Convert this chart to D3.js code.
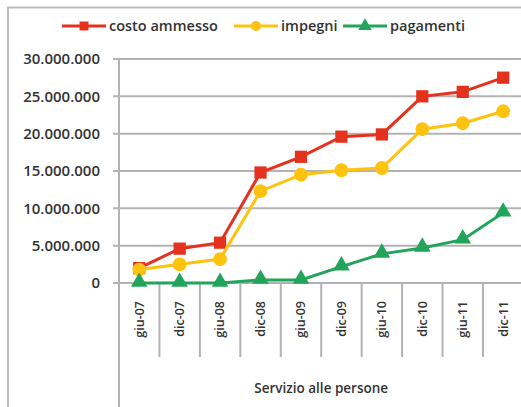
<!DOCTYPE html>
<html><head><meta charset="utf-8">
<script src="https://cdn.jsdelivr.net/npm/d3@7"></script>
<style>body{margin:0;background:#fff}svg{display:block}text{font-family:"Open Sans",sans-serif;fill:#333}</style>
</head><body><svg id="c" width="521" height="407"></svg>
<script>
const categories = ["giu-07","dic-07","giu-08","dic-08","giu-09","dic-09","giu-10","dic-10","giu-11","dic-11"];
const costoAmmesso = [2000000,4600000,5400000,14800000,16900000,19600000,19900000,25000000,25600000,27500000];
const impegni = [1800000,2500000,3200000,12300000,14500000,15100000,15400000,20600000,21400000,23000000];
const pagamenti = [0,0,0,400000,400000,2200000,3900000,4700000,5800000,9400000];
const yTicks = [0,5000000,10000000,15000000,20000000,25000000,30000000];
const seriesNames = ["costo ammesso","impegni","pagamenti"];
const axisTitle = "Servizio alle persone";

const colors = ["#e5321f","#ffc20e","#22a55b"];
const shapes = [d3.symbolSquare, d3.symbolCircle, d3.symbolTriangle];
const sizes = [150, 150, 120];

const svg = d3.select("#c");
const L = 119, R = 523.4, T = 59, B = 283;
// outer frame
svg.append("rect").attr("x",8).attr("y",7.5).attr("width",530).attr("height",420)
  .attr("fill","none").attr("stroke","#bdbdbd").attr("stroke-width",2);

const x = d3.scaleBand().domain(categories).range([L,R]).padding(0);
const y = d3.scaleLinear().domain([0,30000000]).range([B,T]);

const fmt = v => d3.format(",")(v).replace(/,/g,".");

// gridlines
svg.append("g").selectAll("line").data(yTicks).join("line")
  .attr("x1",L-6).attr("x2",R).attr("y1",d=>y(d)).attr("y2",d=>y(d))
  .attr("stroke","#b3b3b3").attr("stroke-width",2);
// y labels
svg.append("g").selectAll("text").data(yTicks).join("text")
  .attr("x",100).attr("y",d=>y(d)).attr("dy","0.35em").attr("text-anchor","end")
  .style("font-size","15px").style("font-weight","600").text(d=>fmt(d));
// vertical axis line
svg.append("line").attr("x1",L).attr("x2",L).attr("y1",T).attr("y2",410)
  .attr("stroke","#b3b3b3").attr("stroke-width",2);
// category separators
svg.append("g").selectAll("line").data(categories.slice(1)).join("line")
  .attr("x1",d=>x(d)).attr("x2",d=>x(d)).attr("y1",B).attr("y2",357)
  .attr("stroke","#b3b3b3").attr("stroke-width",2);
// category labels
svg.append("g").selectAll("text").data(categories).join("text")
  .attr("transform",d=>`translate(${x(d)+x.bandwidth()/2},301) rotate(-90)`)
  .attr("text-anchor","end").attr("dy","0.35em")
  .style("font-size","12.5px").style("font-weight","600").text(d=>d);
svg.append("text").attr("x",(L+R)/2).attr("y",388).attr("dy","0.35em").attr("text-anchor","middle")
  .style("font-size","13.5px").style("font-weight","600").text(axisTitle);

const data = [costoAmmesso, impegni, pagamenti];
const line = d3.line().x((d,i)=>x(categories[i])+x.bandwidth()/2).y(d=>y(d));
data.forEach((s,k)=>{
  svg.append("path").datum(s).attr("d",line).attr("fill","none")
    .attr("stroke",colors[k]).attr("stroke-width",3);
  svg.append("g").selectAll("path").data(s).join("path")
    .attr("transform",(d,i)=>`translate(${x(categories[i])+x.bandwidth()/2},${y(d)+(k===2?-1:0)})`)
    .attr("d",d3.symbol().type(shapes[k]).size(sizes[k])).attr("fill",colors[k]);
});

// legend
const legX = [62,234,343];
const leg = svg.append("g");
seriesNames.forEach((n,k)=>{
  const g = leg.append("g").attr("transform",`translate(${legX[k]},26)`);
  g.append("line").attr("x1",0).attr("x2",44).attr("stroke",colors[k]).attr("stroke-width",3);
  g.append("path").attr("transform","translate(22,0)").attr("d",d3.symbol().type(shapes[k]).size(80)).attr("fill",colors[k]);
  g.append("text").attr("x",47).attr("dy","0.35em").style("font-size","14.5px").style("font-weight","600").text(n);
});
</script></body></html>
